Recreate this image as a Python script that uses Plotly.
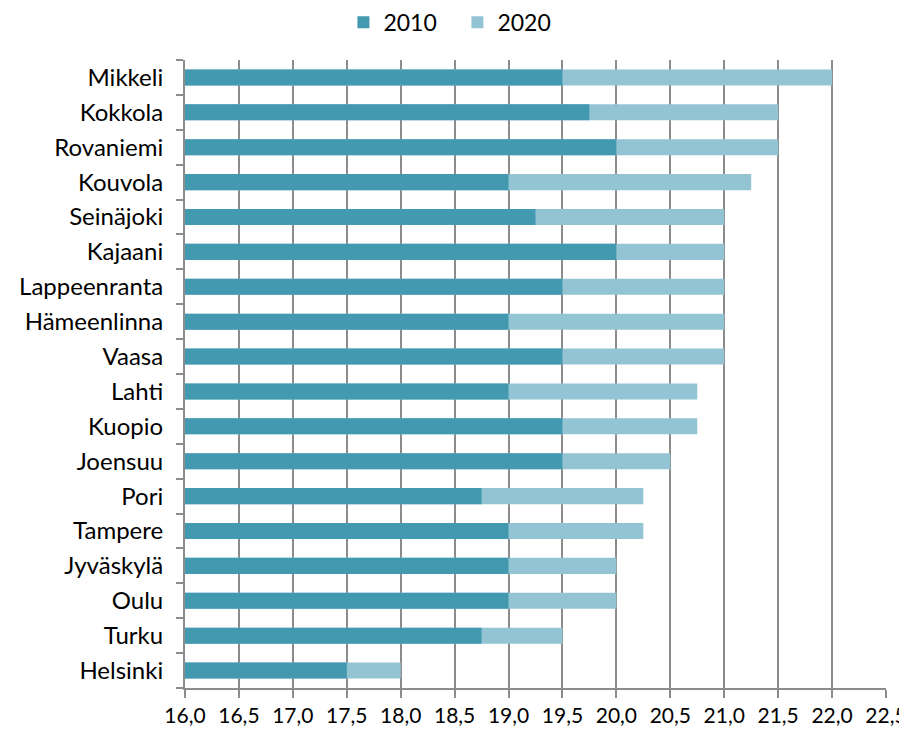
import plotly.graph_objects as go

cities = ["Mikkeli", "Kokkola", "Rovaniemi", "Kouvola", "Seinäjoki", "Kajaani",
          "Lappeenranta", "Hämeenlinna", "Vaasa", "Lahti", "Kuopio", "Joensuu",
          "Pori", "Tampere", "Jyväskylä", "Oulu", "Turku", "Helsinki"]
values_2010 = [19.5, 19.75, 20.0, 19.0, 19.25, 20.0, 19.5, 19.0, 19.5, 19.0,
               19.5, 19.5, 18.75, 19.0, 19.0, 19.0, 18.75, 17.5]
values_2020 = [22.0, 21.5, 21.5, 21.25, 21.0, 21.0, 21.0, 21.0, 21.0, 20.75,
               20.75, 20.5, 20.25, 20.25, 20.0, 20.0, 19.5, 18.0]
x_ticks = [16.0 + 0.5 * i for i in range(14)]

fig = go.Figure()
fig.add_trace(go.Bar(y=cities, x=values_2020, orientation="h", name="2020",
                     marker=dict(color="#93C4D4", line_width=0), legendrank=2))
fig.add_trace(go.Bar(y=cities, x=values_2010, orientation="h", name="2010",
                     marker=dict(color="#4399B0", line_width=0), legendrank=1))

# page body adds an 8px offset, so the figure is 8px smaller
fig.update_layout(
    barmode="overlay",
    bargap=0.54,
    separators=", ",
    width=899, height=721,
    margin=dict(l=177, r=21, t=52, b=41, autoexpand=False),
    plot_bgcolor="white", paper_bgcolor="white",
    font=dict(family="Lato, Open Sans, sans-serif", size=24, color="black"),
    legend=dict(orientation="h", x=0.226, xanchor="left", y=1.06, yanchor="middle",
                font=dict(size=23), entrywidth=69, entrywidthmode="pixels"),
)
fig.update_xaxes(range=[16, 22.5], tickvals=x_ticks, tickformat=".1f",
                 tickfont=dict(size=21),
                 showgrid=True, gridcolor="#8C8C8C", gridwidth=2,
                 showline=True, linecolor="#8C8C8C", linewidth=2,
                 ticks="outside", ticklen=8, tickwidth=2, tickcolor="#8C8C8C",
                 zeroline=False)
fig.update_yaxes(categoryorder="array", categoryarray=cities[::-1],
                 showline=True, linecolor="#8C8C8C", linewidth=2,
                 ticks="outside", ticklen=7, tickwidth=2, tickcolor="#8C8C8C",
                 tickson="boundaries", showgrid=False, ticklabelstandoff=15)

fig.write_html("out.html")
